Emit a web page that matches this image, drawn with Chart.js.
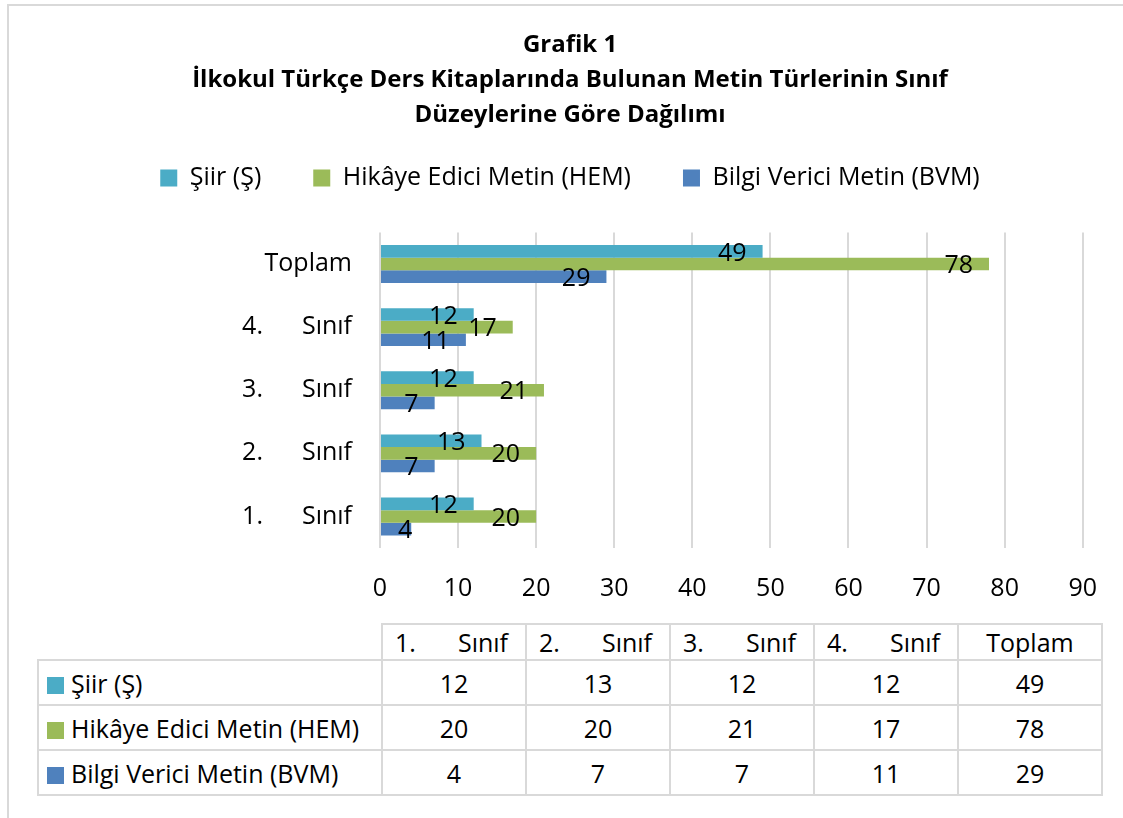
<!DOCTYPE html>
<html>
<head>
<meta charset="utf-8">
<title>Grafik 1</title>
<script src="https://cdn.jsdelivr.net/npm/chart.js@4.4.1/dist/chart.umd.min.js"></script>
<style>
  body { margin: 0; width: 1123px; height: 818px; overflow: hidden; background: #fff; font-family: "Open Sans", sans-serif; }
  .frame { position: absolute; left: 7px; top: 4px; width: 1200px; height: 900px; border: 2px solid #d9d9d9; }
  #chart { position: absolute; left: 0; top: 0; }
  table { position: absolute; left: 37px; top: 623px; border-collapse: collapse; font-size: 25px; color: #000; background: #fff; }
  td { border: 2px solid #d9d9d9; padding: 0; text-align: center; width: 142px; height: 43px; }
  tr.head td { height: 34px; }
  tr.head td.blank { border-top: none; border-left: none; width: 342px; }
  td.name { text-align: left; padding-left: 8px; width: 334px; white-space: nowrap; }
  .key { display: inline-block; width: 17px; height: 17px; margin-right: 7px; vertical-align: -1px; }
  .split { display: flex; justify-content: space-between; padding: 0 17px 0 12px; }
</style>
</head>
<body>
<div class="frame"></div>
<canvas id="chart" width="1123" height="630"></canvas>
<table id="dataTable"></table>
<script>
// chart data
const categories = ["1. Sınıf", "2. Sınıf", "3. Sınıf", "4. Sınıf", "Toplam"];
const seriesNames = ["Şiir (Ş)", "Hikâye Edici Metin (HEM)", "Bilgi Verici Metin (BVM)"];
const siir = [12, 13, 12, 12, 49];
const hem = [20, 20, 21, 17, 78];
const bvm = [4, 7, 7, 11, 29];
const xMax = 90;
const xStep = 10;
const colors = ["#4BACC6", "#9BBB59", "#4F81BD"];
const titleLines = [
  "Grafik 1",
  "İlkokul Türkçe Ders Kitaplarında Bulunan Metin Türlerinin Sınıf",
  "Düzeylerine Göre Dağılımı",
];

const seriesValues = [siir, hem, bvm];

Chart.defaults.font.family = '"Open Sans", sans-serif';
Chart.defaults.color = "#000";

// "1. Sınıf" -> "1.      Sınıf" (spread like the original)
const spread = (label) => label.replace(". ", ".      ");

// value labels at the inner end of each bar
const valueLabels = {
  id: "valueLabels",
  afterDatasetsDraw(chart) {
    const ctx = chart.ctx;
    ctx.save();
    ctx.font = '25px "Open Sans"';
    ctx.fillStyle = "#000";
    ctx.textAlign = "right";
    ctx.textBaseline = "middle";
    chart.data.datasets.forEach((ds, i) => {
      chart.getDatasetMeta(i).data.forEach((bar, j) => {
        const txt = String(ds.data[j]);
        const w = ctx.measureText(txt).width;
        const x = Math.max(bar.x - 16, bar.base + 17 + w);
        ctx.fillText(txt, x, bar.y + 2);
      });
    });
    ctx.restore();
  },
};

const chart = new Chart(document.getElementById("chart"), {
  type: "bar",
  data: {
    labels: categories,
    datasets: seriesNames.map((name, i) => ({
      label: name,
      data: seriesValues[i],
      backgroundColor: colors[i],
      borderWidth: 0,
      categoryPercentage: 0.6,
      barPercentage: 1.0,
    })),
  },
  options: {
    indexAxis: "y",
    responsive: false,
    animation: false,
    layout: { padding: { left: 52, right: 35, top: 0, bottom: 0 } },
    scales: {
      x: {
        min: 0,
        max: xMax,
        ticks: { stepSize: xStep, font: { size: 25 }, padding: 26 },
        grid: { color: "#d9d9d9", lineWidth: 2, drawTicks: false },
        border: { display: false },
      },
      y: {
        reverse: true,
        ticks: { font: { size: 25 }, padding: 28, callback: (v, i) => spread(categories[i]) },
        grid: { display: false, drawTicks: false },
        border: { display: false },
        afterFit: (scale) => { scale.width = 328; },
      },
    },
    plugins: {
      title: {
        display: true,
        text: titleLines,
        color: "#000",
        font: { size: 24, weight: "bold", lineHeight: 35 / 24 },
        padding: { top: 27.5, bottom: -19 },
      },
      // empty spacer under the legend
      subtitle: {
        display: true,
        text: " ",
        weight: 500,
        font: { size: 32, lineHeight: 1 },
        padding: 0,
      },
      legend: {
        position: "top",
        labels: { boxWidth: 17, boxHeight: 17, padding: 52, font: { size: 25 }, color: "#000" },
      },
      tooltip: { enabled: false },
    },
  },
  plugins: [valueLabels],
});

// data table under the chart
const table = document.getElementById("dataTable");
let html = '<tr class="head"><td class="blank"></td>';
categories.forEach((c) => {
  const parts = c.split(" ");
  if (parts.length > 1) {
    html += '<td><div class="split"><span>' + parts[0] + "</span><span>" + parts[1] + "</span></div></td>";
  } else {
    html += "<td>" + c + "</td>";
  }
});
html += "</tr>";
seriesNames.forEach((name, i) => {
  html += '<tr><td class="name"><span class="key" style="background:' + colors[i] + '"></span>' + name + "</td>";
  seriesValues[i].forEach((v) => { html += "<td>" + v + "</td>"; });
  html += "</tr>";
});
table.innerHTML = html;
</script>
</body>
</html>
